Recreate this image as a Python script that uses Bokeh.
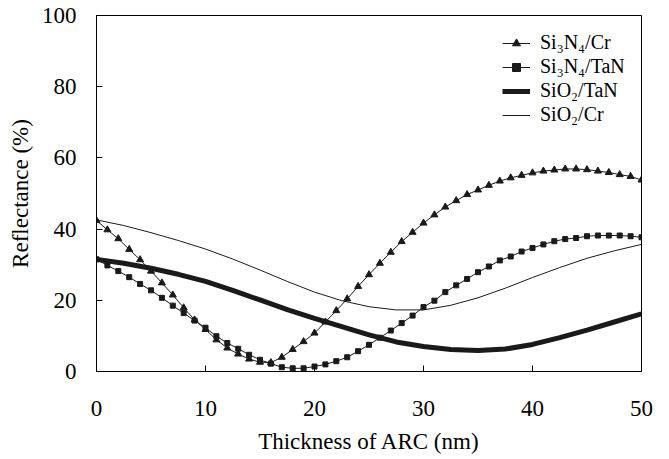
from bokeh.plotting import figure
from bokeh.models import Range1d, FixedTicker, Legend, LegendItem
from bokeh.embed import file_html
from bokeh.resources import INLINE

# ---- data ----
x_marker = list(range(0, 51))
si3n4_cr = [42.4, 39.8, 37.3, 34.3, 31.4, 28.2, 24.9, 21.5, 17.9, 14.5,
            11.8, 8.9, 6.6, 4.9, 3.5, 2.6, 2.5, 4.0, 6.2, 8.4,
            10.8, 13.9, 17.1, 20.4, 23.9, 27.2, 30.4, 33.5, 36.5, 39.1,
            41.7, 44.0, 46.2, 48.0, 49.7, 51.0, 52.3, 53.5, 54.4, 55.1,
            55.8, 56.3, 56.6, 56.9, 56.9, 56.7, 56.3, 55.9, 55.3, 54.8, 53.8]
si3n4_tan = [31.5, 29.8, 28.2, 26.5, 24.6, 22.8, 20.7, 18.5, 16.4, 14.3,
             12.3, 9.9, 8.0, 6.4, 4.7, 3.3, 2.2, 1.2, 0.9, 0.9,
             1.4, 2.0, 2.9, 4.0, 5.7, 7.5, 9.5, 11.5, 13.6, 15.7,
             18.1, 19.9, 22.3, 24.2, 26.0, 27.9, 29.5, 31.2, 32.3, 33.7,
             34.7, 35.7, 36.6, 37.2, 37.5, 38.0, 38.2, 38.2, 38.2, 38.0, 37.7]
x_line = [0, 2.5, 5, 7.5, 10, 12.5, 15, 17.5, 20, 22.5, 25, 27.5, 30,
          32.5, 35, 37.5, 40, 42.5, 45, 47.5, 50]
sio2_tan = [31.5, 30.4, 29.0, 27.3, 25.3, 22.8, 20.1, 17.4, 14.9, 12.6, 10.3,
            8.3, 7.0, 6.2, 5.9, 6.3, 7.6, 9.5, 11.6, 13.9, 16.2]
sio2_cr = [42.6, 41.0, 39.0, 36.8, 34.4, 31.6, 28.5, 25.3, 22.3, 19.9, 18.2,
           17.3, 17.3, 18.6, 20.7, 23.4, 26.4, 29.2, 31.8, 33.9, 35.7]
x_ticks = [0, 10, 20, 30, 40, 50]
y_ticks = [0, 20, 40, 60, 80, 100]
labels = ["Si\u2083N\u2084/Cr", "Si\u2083N\u2084/TaN", "SiO\u2082/TaN", "SiO\u2082/Cr"]

FONT = "Liberation Serif"
INK = "#1a1a1a"

p = figure(width=669, height=459, output_backend="svg", toolbar_location=None,
           x_range=Range1d(0, 50), y_range=Range1d(0, 100),
           min_border_left=96, min_border_right=28, min_border_top=15,
           min_border_bottom=88)
p.grid.visible = False
p.outline_line_color = "black"
p.outline_line_width = 1
p.background_fill_color = "white"
p.border_fill_color = "white"

for ax in (p.xaxis[0], p.yaxis[0]):
    ax.major_tick_in = 6
    ax.major_tick_out = 0
    ax.minor_tick_in = 0
    ax.minor_tick_out = 0
    ax.axis_line_color = "black"
    ax.major_tick_line_color = "black"
    ax.major_label_text_font = FONT
    ax.major_label_text_font_size = "23px"
    ax.major_label_text_color = "black"
    ax.axis_label_text_font = FONT
    ax.axis_label_text_font_size = "23px"
    ax.axis_label_text_font_style = "normal"
    ax.axis_label_text_color = "black"

p.xaxis.ticker = FixedTicker(ticks=x_ticks)
p.yaxis.ticker = FixedTicker(ticks=y_ticks)
p.xaxis.axis_label = "Thickness of ARC (nm)"
p.yaxis.axis_label = "Reflectance (%)"
p.xaxis.major_label_standoff = 29
p.yaxis.major_label_standoff = 20
p.xaxis.axis_label_standoff = 10
p.yaxis.axis_label_standoff = 6

r_thin = p.line(x_line, sio2_cr, line_color=INK, line_width=1)
r_thick = p.line(x_line, sio2_tan, line_color=INK, line_width=5)
r_tan_l = p.line(x_marker, si3n4_tan, line_color=INK, line_width=1)
r_tan_m = p.scatter(x_marker, si3n4_tan, marker="square", size=5,
                    fill_color=INK, line_color=INK)
r_cr_l = p.line(x_marker, si3n4_cr, line_color=INK, line_width=1)
r_cr_m = p.scatter(x_marker, si3n4_cr, marker="triangle", size=7,
                   fill_color=INK, line_color=INK)

legend = Legend(items=[
    LegendItem(label=labels[0], renderers=[r_cr_l, r_cr_m]),
    LegendItem(label=labels[1], renderers=[r_tan_l, r_tan_m]),
    LegendItem(label=labels[2], renderers=[r_thick]),
    LegendItem(label=labels[3], renderers=[r_thin]),
], location=(406, 245))
legend.border_line_alpha = 0
legend.background_fill_alpha = 0
legend.padding = 0
legend.margin = 0
legend.spacing = 1
legend.glyph_width = 28
legend.glyph_height = 20
legend.label_height = 20
legend.label_standoff = 10
legend.label_text_font = FONT
legend.label_text_font_size = "20px"
legend.label_text_color = "black"
p.add_layout(legend)

open("out.html", "w").write(file_html(p, INLINE))
